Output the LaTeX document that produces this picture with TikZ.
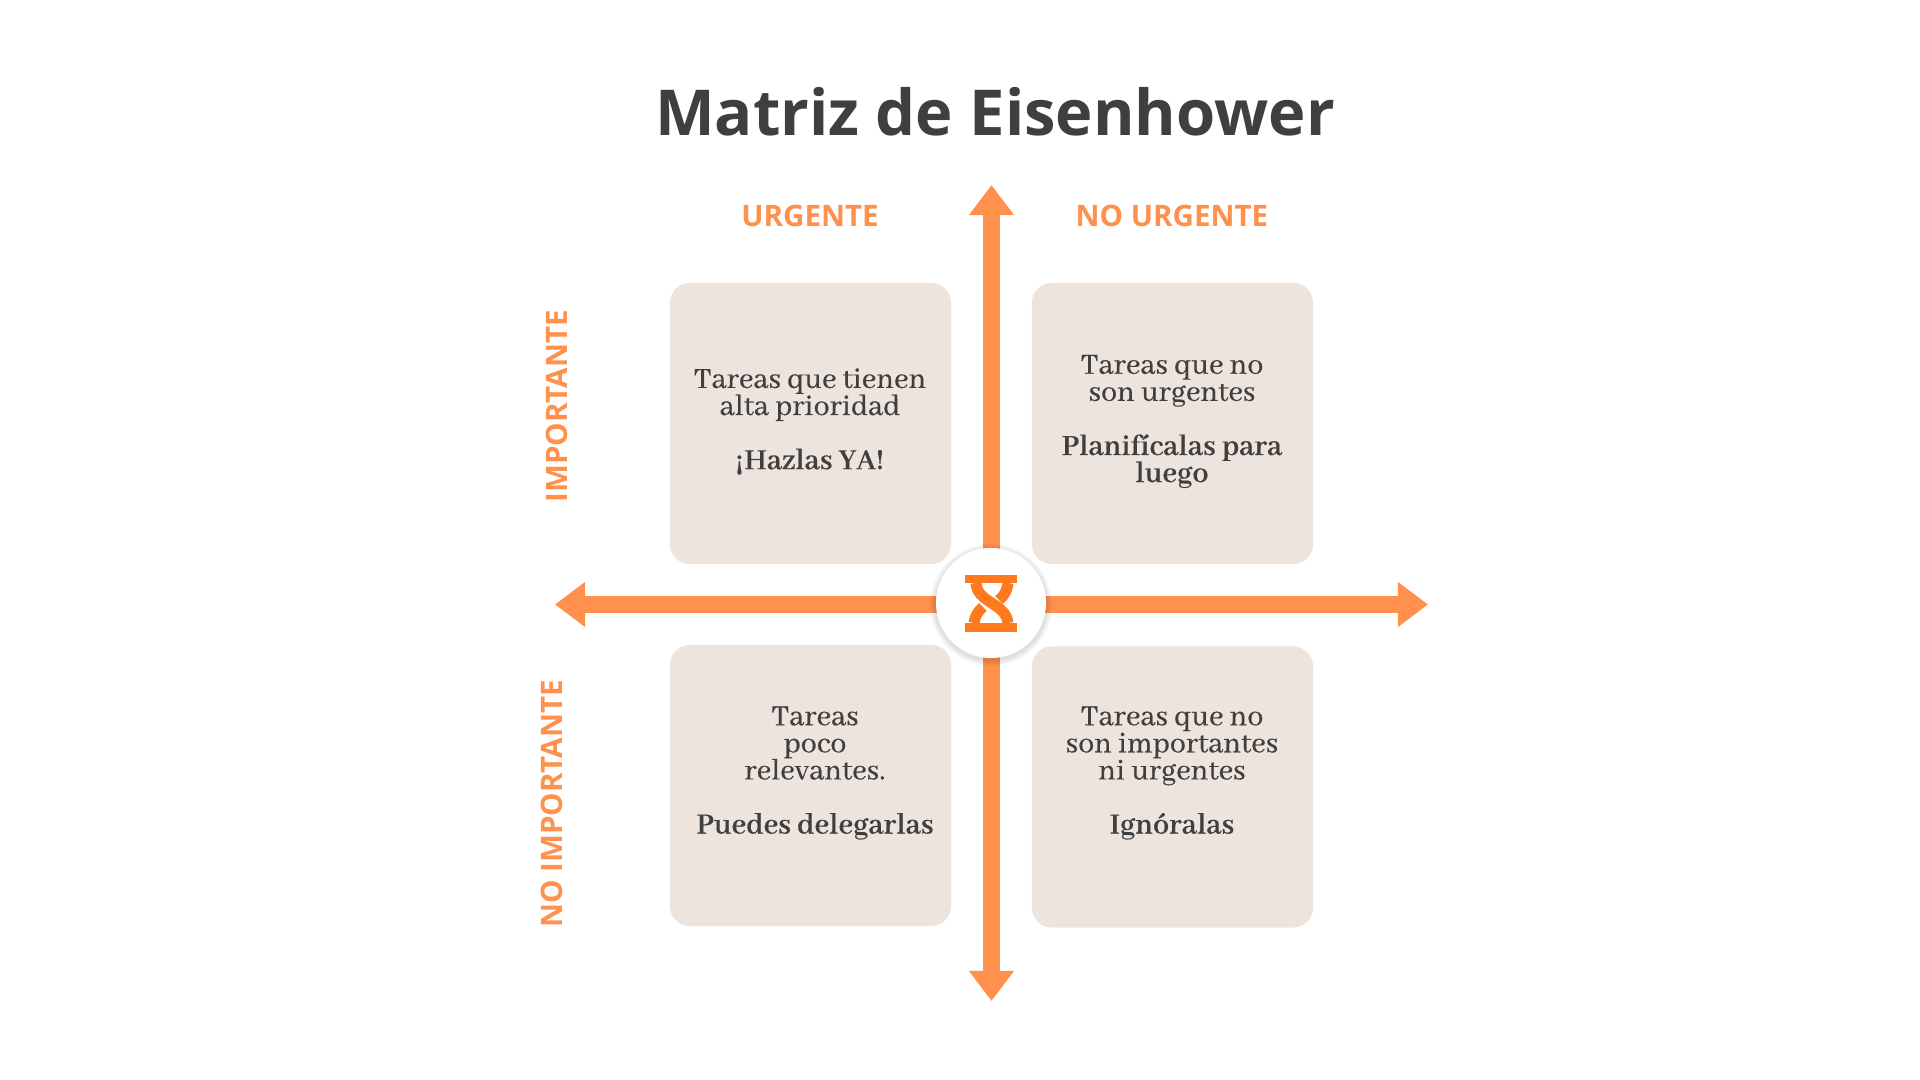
\documentclass[tikz,border=0pt]{standalone}
\usepackage{fontspec}
\setmainfont{Abhaya Libre}[RawFeature={embolden=0.5}]
\setsansfont{Open Sans}
\usepackage{tikz}
\usetikzlibrary{arrows.meta,positioning}
\definecolor{naranja}{HTML}{FF914D}
\definecolor{reloj}{HTML}{FF7A1E}
\definecolor{crema}{HTML}{EDE4DE}
\definecolor{tinta}{HTML}{3F3F3F}

\begin{document}
\begin{tikzpicture}[x=.01cm,y=-.01cm,
  q/.style={rectangle,fill=crema,rounded corners=2mm,minimum width=2.81cm,minimum height=2.81cm,inner sep=0},
  t/.style={align=center,text=tinta,font=\fontsize{9.1}{7.7}\selectfont},
  eje/.style={draw=naranja,line width=1.75mm,-{Triangle[length=3mm,width=4.3mm]}},
  lab/.style={text=naranja,font=\sffamily\bfseries\fontsize{8.4}{9}\selectfont},
  sand/.style={draw=reloj,line width=1.1mm}]
  \useasboundingbox[fill=white] (0,0) rectangle (1920,1080);

  \node[text=tinta,font=\sffamily\bfseries\fontsize{18}{22}\selectfont] (title) at (995,112) {Matriz de Eisenhower};

  \node[q] (ui) at (810.5,423.5) {};
  \node[q] (ni) at (1172.5,423.5) {};
  \node[q] (un) at (810.5,785.5) {};
  \node[q] (nn) at (1172.5,787) {};

  \node[t] (uitxt) at (810,421.5) {Tareas que tienen\\alta prioridad\\[\baselineskip]\textbf{¡Hazlas YA!}};
  \node[t] (nitxt) at (1172,421.5) {Tareas que no\\son urgentes\\[\baselineskip]\textbf{Planifícalas para}\\\textbf{luego}};
  \node[t] (untxt) at (815,773) {Tareas\\poco\\relevantes.\\[\baselineskip]\textbf{Puedes delegarlas}};
  \node[t] (nntxt) at (1172,773) {Tareas que no\\son importantes\\ni urgentes\\[\baselineskip]\textbf{Ignóralas}};

  \node[lab] (urg) at (810,215.5) {URGENTE};
  \node[lab] (nourg) at (1172,215.5) {NO URGENTE};
  \node[lab,rotate=90] (imp) at (557,406.5) {IMPORTANTE};
  \node[lab,rotate=90] (noimp) at (552,804) {NO IMPORTANTE};

  \coordinate (top) at (991.5,185);
  \coordinate (bot) at (991.5,1001);
  \coordinate (lft) at (555,604.5);
  \coordinate (rgt) at (1428,604.5);
  \coordinate (mid) at (991.5,604.5);

  \draw[eje] (mid) -- (top);
  \draw[eje] (mid) -- (bot);
  \draw[eje] (mid) -- (lft);
  \draw[eje] (mid) -- (rgt);

  % sombra
  \foreach \r in {1.5,3,4.5,6}
    \fill[black,opacity=.03] (991,605) circle (55+\r);
  \node[circle,fill=white,minimum size=1.1cm,inner sep=0] (hub) at (991,603) {};

  \fill[reloj] (965,575) rectangle (1017,583);
  \fill[reloj] (965,623) rectangle (1017,632);
  \draw[sand] (976,583) .. controls (977,603) and (1006,603) .. (1008,623);
  \draw[sand] (1008,583) .. controls (1007,591) and (1004,596) .. (999,600);
  \draw[sand] (974,623) .. controls (975,616) and (978,611) .. (983,607);
\end{tikzpicture}
\end{document}
